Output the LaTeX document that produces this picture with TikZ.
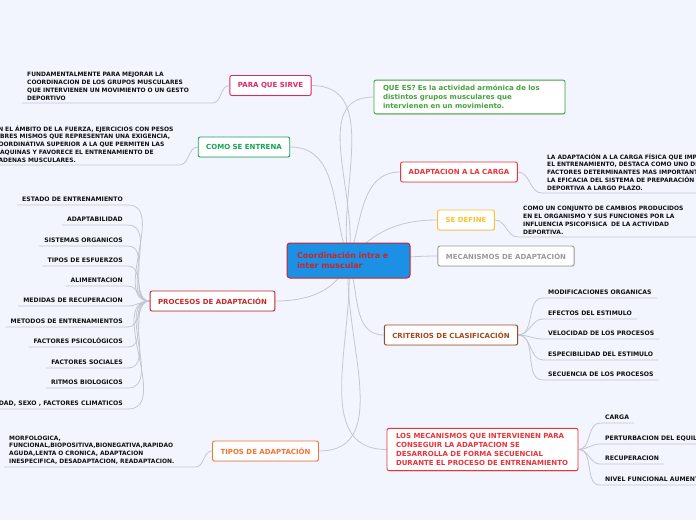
\documentclass[tikz,border=0pt]{standalone}
\usepackage{fontspec}
\setmainfont{DejaVu Sans}
\usepackage{xcolor}
\usetikzlibrary{shadows,backgrounds}

\definecolor{bgpaper}{HTML}{F2F5FD}
\definecolor{linkgray}{HTML}{C4C7D2}
\definecolor{inkdark}{HTML}{101010}
\definecolor{coreblue}{HTML}{1C90E4}
\definecolor{corered}{HTML}{C9252B}
\definecolor{pinkred}{HTML}{DE2A64}
\definecolor{trainsgreen}{HTML}{17A457}
\definecolor{darkred}{HTML}{C42A2A}
\definecolor{orangeish}{HTML}{F27434}
\definecolor{leafgreen}{HTML}{45A23E}
\definecolor{brightred}{HTML}{E6353B}
\definecolor{yellowish}{HTML}{F4C52A}
\definecolor{midgray}{HTML}{9A9A9A}
\definecolor{brownish}{HTML}{A0491E}

\begin{document}
\begin{tikzpicture}[x=1pt, y=-1pt,
    core/.style={draw=corered, fill=coreblue, text=corered, rounded corners=3pt, line width=1pt,
        font=\bfseries\fontsize{8}{10}\selectfont, text width=103pt, align=left,
        minimum height=35pt, inner xsep=10pt},
    topic/.style={draw=#1, text=#1, fill=white, rounded corners=2pt, line width=0.9pt,
        font=\bfseries\fontsize{7}{9}\selectfont, inner xsep=8pt, inner ysep=3pt,
        minimum height=20pt, drop shadow={shadow xshift=0.4pt, shadow yshift=-0.9pt, opacity=0.18}},
    leaf/.style={text=inkdark, font=\bfseries\fontsize{6.15}{7}\selectfont, inner xsep=5pt,
        inner ysep=2.5pt, text height=4.4pt, text depth=1.2pt},
    note/.style={text=inkdark, font=\bfseries\fontsize{5.95}{7.8}\selectfont, inner xsep=5pt,
        inner ysep=2.5pt, align=left, text width=#1},
    link/.style={draw=linkgray, line width=0.8pt}]
    \path[use as bounding box, clip] (0,0) rectangle (696,520);

    % centre
    \node[core] (coord) at (348.5,260.5) {Coordinación intra e\\inter muscular};

    % left side
    \node[topic=pinkred] (para) at (270.5,85.5) {PARA QUE SIRVE};
    \node[note=180pt, anchor=south west] (paranote) at (22,103) {FUNDAMENTALMENTE PARA MEJORAR LA\\COORDINACION DE LOS GRUPOS MUSCULARES\\QUE INTERVIENEN UN MOVIMIENTO O UN GESTO\\DEPORTIVO};

    \node[topic=trainsgreen] (como) at (244,147) {COMO SE ENTRENA};
    \node[note=180pt, anchor=south west] (comonote) at (-11,165) {EN EL ÁMBITO DE LA FUERZA, EJERCICIOS CON PESOS\\LIBRES MISMOS QUE REPRESENTAN UNA EXIGENCIA,\\COORDINATIVA SUPERIOR A LA QUE PERMITEN LAS\\MAQUINAS Y FAVORECE EL ENTRENAMIENTO DE\\CADENAS MUSCULARES.};

    \node[topic=darkred] (procesos) at (212.5,301) {PROCESOS DE ADAPTACIÓN};
    \node[leaf, anchor=south east] (estado) at (128,205) {ESTADO DE ENTRENAMIENTO};
    \node[leaf, anchor=south east] (adapt) at (128,225) {ADAPTABILIDAD};
    \node[leaf, anchor=south east] (sistemas) at (128,246) {SISTEMAS ORGANICOS};
    \node[leaf, anchor=south east] (esfuerzos) at (128,266) {TIPOS DE ESFUERZOS};
    \node[leaf, anchor=south east] (alim) at (128,286) {ALIMENTACION};
    \node[leaf, anchor=south east] (medidas) at (128,306) {MEDIDAS DE RECUPERACION};
    \node[leaf, anchor=south east] (metodos) at (128,327) {METODOS DE ENTRENAMIENTOS};
    \node[leaf, anchor=south east] (psico) at (128,347) {FACTORES PSICOLÓGICOS};
    \node[leaf, anchor=south east] (sociales) at (128,368) {FACTORES SOCIALES};
    \node[leaf, anchor=south east] (ritmos) at (128,388) {RITMOS BIOLOGICOS};
    \node[leaf, anchor=south east] (clima) at (128,409) {EDAD, SEXO , FACTORES CLIMATICOS};

    \node[topic=orangeish] (tipos) at (265.5,451) {TIPOS DE ADAPTACIÓN};
    \node[note=181pt, anchor=south west] (tiposnote) at (4,467) {MORFOLOGICA,\\FUNCIONAL,BIOPOSITIVA,BIONEGATIVA,RAPIDAO\\AGUDA,LENTA O CRONICA, ADAPTACION\\INESPECIFICA, DESADAPTACION, READAPTACION.};

    % right side
    \node[topic=leafgreen, align=left, text width=173pt, inner xsep=9pt, inner ysep=5pt] (quees) at (469.5,97) {QUE ES? Es la actividad armónica de los\\distintos grupos musculares que\\intervienen en un movimiento.};

    \node[topic=brightred] (carga) at (459,172) {ADAPTACION A LA CARGA};
    \node[note=200pt, anchor=south west] (carganote) at (542,193) {LA ADAPTACIÓN A LA CARGA FÍSICA QUE IMPLICA\\EL ENTRENAMIENTO, DESTACA COMO UNO DE LOS\\FACTORES DETERMINANTES MAS IMPORTANTES EN\\LA EFICACIA DEL SISTEMA DE PREPARACIÓN\\DEPORTIVA A LARGO PLAZO.};

    \node[topic=yellowish] (define) at (466,220) {SE DEFINE};
    \node[note=180pt, anchor=south west] (definenote) at (518,237) {COMO UN CONJUNTO DE CAMBIOS PRODUCIDOS\\EN EL ORGANISMO Y SUS FUNCIONES POR LA\\INFLUENCIA PSICOFISICA\ \ DE LA ACTIVIDAD\\DEPORTIVA.};

    \node[topic=midgray] (mecanismos) at (506,256) {MECANISMOS DE ADAPTACIÓN};

    \node[topic=brownish] (criterios) at (451,335) {CRITERIOS DE CLASIFICACIÓN};
    \node[leaf, anchor=south west] (modif) at (543,298) {MODIFICACIONES ORGANICAS};
    \node[leaf, anchor=south west] (efectos) at (543,319) {EFECTOS DEL ESTIMULO};
    \node[leaf, anchor=south west] (velocidad) at (543,339) {VELOCIDAD DE LOS PROCESOS};
    \node[leaf, anchor=south west] (especif) at (543,360) {ESPECIBILIDAD DEL ESTIMULO};
    \node[leaf, anchor=south west] (secuencia) at (543,380) {SECUENCIA DE LOS PROCESOS};

    \node[topic=brightred, align=left, text width=173pt, inner xsep=9pt, inner ysep=5pt] (secuencial) at (482.5,449.5) {LOS MECANISMOS QUE INTERVIENEN PARA\\CONSEGUIR LA ADAPTACION SE\\DESARROLLA DE FORMA SECUENCIAL\\DURANTE EL PROCESO DE ENTRENAMIENTO};
    \node[leaf, anchor=south west] (cargaleaf) at (600,423) {CARGA};
    \node[leaf, anchor=south west] (perturb) at (600,444) {PERTURBACION DEL EQUILIBRIO};
    \node[leaf, anchor=south west] (recup) at (600,464) {RECUPERACION};
    \node[leaf, anchor=south west] (nivel) at (600,485) {NIVEL FUNCIONAL AUMENTADO};

    \begin{scope}[on background layer]
        \fill[bgpaper] (0,0) rectangle (696,520);
        % main branches
        \draw[link] (coord.center) to[out=100,in=0] (para.east);
        \draw[link] (coord.center) to[out=110,in=0] (como.east);
        \draw[link] (coord.center) to[out=250,in=0] (procesos.east);
        \draw[link] (coord.center) to[out=265,in=0] (tipos.east);
        \draw[link] (coord.center) to[out=80,in=180] (quees.west);
        \draw[link] (coord.center) to[out=70,in=180] (carga.west);
        \draw[link] (coord.center) to[out=50,in=180] (define.west);
        \draw[link] (coord.center) to[out=0,in=180] (mecanismos.west);
        \draw[link] (coord.center) to[out=290,in=180] (criterios.west);
        \draw[link] (coord.center) to[out=275,in=180] (secuencial.west);
        % notes
        \draw[link] (para.west) to[out=180,in=0] (paranote.south east) -- (paranote.south west);
        \draw[link] (como.west) to[out=180,in=0] (comonote.south east) -- (comonote.south west);
        \draw[link] (tipos.west) to[out=180,in=0] (tiposnote.south east) -- (tiposnote.south west);
        \draw[link] (carga.east) to[out=0,in=180] (carganote.south west) -- (carganote.south east);
        \draw[link] (define.east) to[out=0,in=180] (definenote.south west) -- (definenote.south east);
        % leaves
        \draw[link] (procesos.west) to[out=180,in=0] (estado.south east) -- (estado.south west);
        \draw[link] (procesos.west) to[out=180,in=0] (adapt.south east) -- (adapt.south west);
        \draw[link] (procesos.west) to[out=180,in=0] (sistemas.south east) -- (sistemas.south west);
        \draw[link] (procesos.west) to[out=180,in=0] (esfuerzos.south east) -- (esfuerzos.south west);
        \draw[link] (procesos.west) to[out=180,in=0] (alim.south east) -- (alim.south west);
        \draw[link] (procesos.west) to[out=180,in=0] (medidas.south east) -- (medidas.south west);
        \draw[link] (procesos.west) to[out=180,in=0] (metodos.south east) -- (metodos.south west);
        \draw[link] (procesos.west) to[out=180,in=0] (psico.south east) -- (psico.south west);
        \draw[link] (procesos.west) to[out=180,in=0] (sociales.south east) -- (sociales.south west);
        \draw[link] (procesos.west) to[out=180,in=0] (ritmos.south east) -- (ritmos.south west);
        \draw[link] (procesos.west) to[out=180,in=0] (clima.south east) -- (clima.south west);
        \draw[link] (criterios.east) to[out=0,in=180] (modif.south west) -- (modif.south east);
        \draw[link] (criterios.east) to[out=0,in=180] (efectos.south west) -- (efectos.south east);
        \draw[link] (criterios.east) to[out=0,in=180] (velocidad.south west) -- (velocidad.south east);
        \draw[link] (criterios.east) to[out=0,in=180] (especif.south west) -- (especif.south east);
        \draw[link] (criterios.east) to[out=0,in=180] (secuencia.south west) -- (secuencia.south east);
        \draw[link] (secuencial.east) to[out=0,in=180] (cargaleaf.south west) -- (cargaleaf.south east);
        \draw[link] (secuencial.east) to[out=0,in=180] (perturb.south west) -- (perturb.south east);
        \draw[link] (secuencial.east) to[out=0,in=180] (recup.south west) -- (recup.south east);
        \draw[link] (secuencial.east) to[out=0,in=180] (nivel.south west) -- (nivel.south east);
    \end{scope}
\end{tikzpicture}
\end{document}
